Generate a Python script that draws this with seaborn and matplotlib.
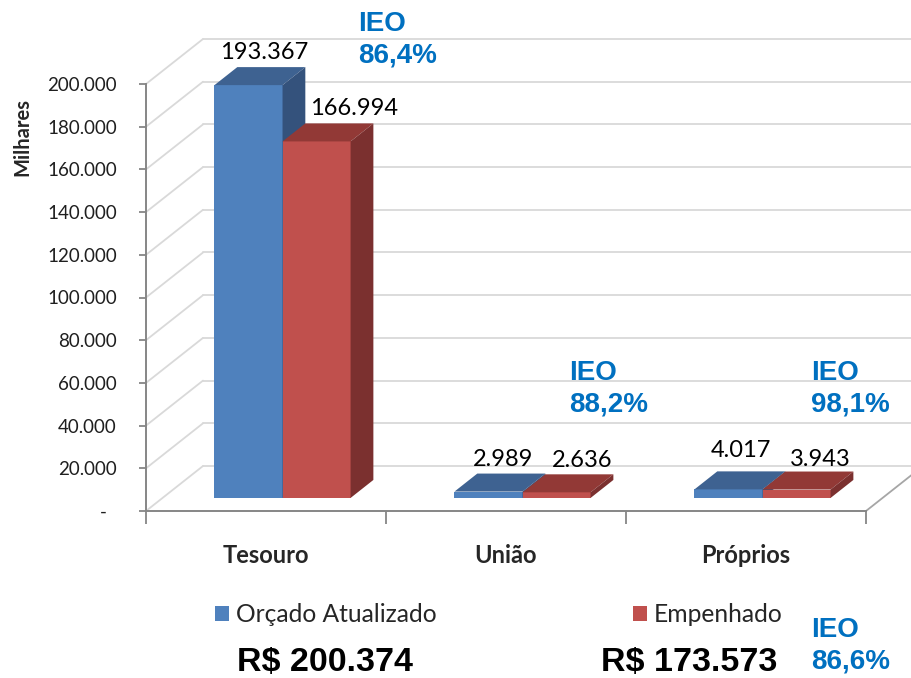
import numpy as np
import pandas as pd
import matplotlib
matplotlib.use("Agg")
import matplotlib.pyplot as plt
import seaborn as sns
from matplotlib.patches import Polygon

CATEGORIAS = ["Tesouro", "União", "Próprios"]
SERIES = ["Orçado Atualizado", "Empenhado"]
ORCADO = [193367, 2989, 4017]
EMPENHADO = [166994, 2636, 3943]
IEO_CAT = ["86,4%", "88,2%", "98,1%"]
TOTAIS = ["R$ 200.374", "R$ 173.573"]
IEO_TOTAL = "86,6%"
Y_TICKS = list(range(0, 200001, 20000))

COR_FRENTE = ["#4F81BD", "#C0504D"]
COR_TOPO = ["#3E6291", "#923936"]
COR_LADO = ["#34527C", "#7B302F"]
AZUL_IEO = "#0070C0"
GRADE = "#D9D9D9"
EIXO = "#868686"

# efeito 3D: profundidade total em unidades de dados (57px x 45px)
DX = 57 / 240
DY = 45 * 200000 / 427
F0, F1 = 0.29, 0.69  # frente e fundo das barras

# ajuste fino dos rotulos de dados (px), por serie / categoria
NUDGE = [[(4.5, 15), (3.5, 14), (1.5, 21)],
         [(26.5, 15), (14, 14), (12.5, 12)]]
# caixas de texto IEO (px, canto superior esquerdo)
POS_IEO = [(358, 11), (569, 360), (811, 360), (811, 617)]


def fmt(v):
    return "-  " if v == 0 else f"{v:,.0f}".replace(",", ".")


def px(x, y):
    return x / 912, 1 - y / 678


def main():
    df = pd.DataFrame({
        "categoria": CATEGORIAS * 2,
        "serie": [SERIES[0]] * 3 + [SERIES[1]] * 3,
        "valor": ORCADO + EMPENHADO,
    })
    valores = [ORCADO, EMPENHADO]

    sns.set_style("white")
    plt.rcParams["font.family"] = ["Lato", "DejaVu Sans"]
    fig = plt.figure(figsize=(9.12, 6.78), dpi=100)
    ax = fig.add_axes([146 / 912, 1 - 511 / 678, 720 / 912, 427 / 678])

    sns.barplot(data=df, x="categoria", y="valor", hue="serie", palette=COR_FRENTE,
                width=0.567, gap=0, saturation=1, errorbar=None, linewidth=0, ax=ax)
    ax.set_xlim(-0.5, 2.5)
    ax.set_ylim(0, 200000)

    # paredes / grade
    x0, x1 = -0.5, 2.5
    for y in Y_TICKS:
        ax.plot([x0, x0 + DX], [y, y + DY], color=GRADE, lw=1.3, clip_on=False, zorder=0.5)
        ax.plot([x0 + DX, x1 + DX], [y + DY, y + DY], color=GRADE, lw=1.3, clip_on=False, zorder=0.5)
    ax.plot([x1, x1 + DX], [0, DY], color="#A6A6A6", lw=1.3, clip_on=False, zorder=0.5)

    # barras 3D
    d = F1 - F0
    for k, cont in enumerate(ax.containers):
        for i, p in enumerate(cont.patches):
            x = p.get_x() + F0 * DX
            y = F0 * DY
            w = p.get_width()
            h = p.get_height()
            p.set_xy((x, y))
            p.set_zorder(3 + k)
            p.set_clip_on(False)
            topo = [(x, y + h), (x + w, y + h), (x + w + d * DX, y + h + d * DY), (x + d * DX, y + h + d * DY)]
            lado = [(x + w, y), (x + w + d * DX, y + d * DY), (x + w + d * DX, y + h + d * DY), (x + w, y + h)]
            ax.add_patch(Polygon(topo, closed=True, fc=COR_TOPO[k], ec="none", zorder=3 + k, clip_on=False))
            ax.add_patch(Polygon(lado, closed=True, fc=COR_LADO[k], ec="none", zorder=3 + k, clip_on=False))
            nx, ny = NUDGE[k][i]
            ax.annotate(fmt(valores[k][i]), xy=(x + w / 2 + d * DX / 2, y + h + d * DY),
                        xytext=(nx * 0.72, ny * 0.72), textcoords="offset points",
                        ha="center", va="center", fontsize=17, color="black",
                        annotation_clip=False, zorder=10)

    # eixos
    sns.despine(ax=ax, top=True, right=True)
    for s in ["left", "bottom"]:
        ax.spines[s].set_color(EIXO)
        ax.spines[s].set_linewidth(1.4)
    ax.set_yticks(Y_TICKS)
    ax.set_yticklabels([fmt(v) for v in Y_TICKS])
    ax.tick_params(axis="y", direction="out", length=5, width=1.3, color=EIXO,
                   labelsize=13.5, labelcolor="#1f1f1f", pad=16, left=True)
    ax.set_xticks([0, 1, 2])
    ax.set_xticklabels(CATEGORIAS, fontsize=17, fontweight="bold")
    ax.set_xticks([-0.5, 0.5, 1.5, 2.5], minor=True)
    ax.tick_params(axis="x", which="major", length=0, pad=24)
    ax.tick_params(axis="x", which="minor", direction="out", length=9, width=1.3, color=EIXO, bottom=True)
    ax.set_xlabel("")
    ax.set_ylabel("Milhares", fontsize=14.5, fontweight="bold")
    ax.yaxis.set_label_coords(-0.158, 0.876)

    # legenda
    sns.move_legend(ax, "center left", bbox_to_anchor=px(215, 615), bbox_transform=fig.transFigure,
                    ncol=2, frameon=False, title=None, borderaxespad=0, borderpad=0,
                    prop={"size": 17.7},
                    handlelength=0.57, handleheight=0.57, handletextpad=0.28, columnspacing=8.0)

    # IEO
    textos = [f"IEO\n{t}" for t in IEO_CAT] + [f"IEO\n{IEO_TOTAL}"]
    for (xp, yp), t in zip(POS_IEO, textos):
        fig.text(*px(xp, yp), t, ha="left", va="top", fontsize=20,
                 fontweight="bold", color=AZUL_IEO, family="Liberation Sans", linespacing=1.27)

    # totais
    for xp, t in zip([237, 601], TOTAIS):
        fig.text(*px(xp, 662), t, ha="left", va="center", fontsize=24.5,
                 fontweight="bold", color="black", family="Liberation Sans")

    fig.savefig("out.png", dpi=100)


if __name__ == "__main__":
    main()
